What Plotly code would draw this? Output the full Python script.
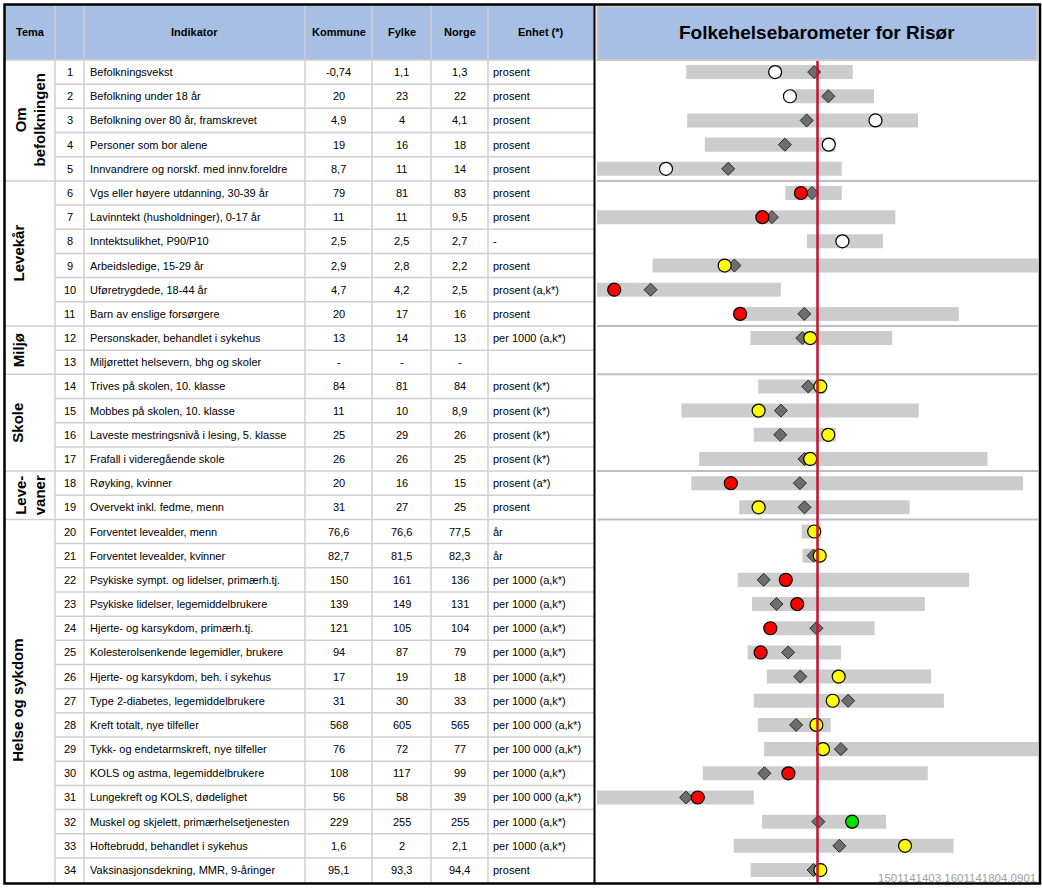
import plotly.graph_objects as go

# ---------------- data ----------------
themes = ["Om<br>befolkningen", "Levekår", "Miljø", "Skole", "Leve-<br>vaner", "Helse og sykdom"]
theme_rows = [5, 6, 2, 4, 2, 15]

indicators = [
    "Befolkningsvekst",
    "Befolkning under 18 år",
    "Befolkning over 80 år, framskrevet",
    "Personer som bor alene",
    "Innvandrere og norskf. med innv.foreldre",
    "Vgs eller høyere utdanning, 30-39 år",
    "Lavinntekt (husholdninger), 0-17 år",
    "Inntektsulikhet, P90/P10",
    "Arbeidsledige, 15-29 år",
    "Uføretrygdede, 18-44 år",
    "Barn av enslige forsørgere",
    "Personskader, behandlet i sykehus",
    "Miljørettet helsevern, bhg og skoler",
    "Trives på skolen, 10. klasse",
    "Mobbes på skolen, 10. klasse",
    "Laveste mestringsnivå i lesing, 5. klasse",
    "Frafall i videregående skole",
    "Røyking, kvinner",
    "Overvekt inkl. fedme, menn",
    "Forventet levealder, menn",
    "Forventet levealder, kvinner",
    "Psykiske sympt. og lidelser, primærh.tj.",
    "Psykiske lidelser, legemiddelbrukere",
    "Hjerte- og karsykdom, primærh.tj.",
    "Kolesterolsenkende legemidler, brukere",
    "Hjerte- og karsykdom, beh. i sykehus",
    "Type 2-diabetes, legemiddelbrukere",
    "Kreft totalt, nye tilfeller",
    "Tykk- og endetarmskreft, nye tilfeller",
    "KOLS og astma, legemiddelbrukere",
    "Lungekreft og KOLS, dødelighet",
    "Muskel og skjelett, primærhelsetjenesten",
    "Hoftebrudd, behandlet i sykehus",
    "Vaksinasjonsdekning, MMR, 9-åringer",
]

kommune = ["-0,74", "20", "4,9", "19", "8,7", "79", "11", "2,5", "2,9", "4,7", "20", "13", "-",
           "84", "11", "25", "26", "20", "31", "76,6", "82,7", "150", "139", "121", "94", "17",
           "31", "568", "76", "108", "56", "229", "1,6", "95,1"]
fylke = ["1,1", "23", "4", "16", "11", "81", "11", "2,5", "2,8", "4,2", "17", "14", "-",
         "81", "10", "29", "26", "16", "27", "76,6", "81,5", "161", "149", "105", "87", "19",
         "30", "605", "72", "117", "58", "255", "2", "93,3"]
norge = ["1,3", "22", "4,1", "18", "14", "83", "9,5", "2,7", "2,2", "2,5", "16", "13", "-",
         "84", "8,9", "26", "25", "15", "25", "77,5", "82,3", "136", "131", "104", "79", "18",
         "33", "565", "77", "99", "39", "255", "2,1", "94,4"]
enhet = ["prosent", "prosent", "prosent", "prosent", "prosent", "prosent", "prosent", "-",
         "prosent", "prosent (a,k*)", "prosent", "per 1000 (a,k*)", "",
         "prosent (k*)", "prosent (k*)", "prosent (k*)", "prosent (k*)", "prosent (a*)", "prosent",
         "år", "år", "per 1000 (a,k*)", "per 1000 (a,k*)", "per 1000 (a,k*)", "per 1000 (a,k*)",
         "per 1000 (a,k*)", "per 1000 (a,k*)", "per 100 000 (a,k*)", "per 100 000 (a,k*)",
         "per 1000 (a,k*)", "per 100 000 (a,k*)", "per 1000 (a,k*)", "per 1000 (a,k*)", "prosent"]

# barometer, standardised scale (Norway = 0, chart spans -1 .. 1)
bar_low = [-0.595, -0.121, -0.591, -0.511, -1.0, -0.146, -1.0, -0.048, -0.748, -1.0, -0.354,
           -0.304, None, -0.269, -0.617, -0.289, -0.537, -0.572, -0.355, -0.072, -0.068,
           -0.362, -0.297, -0.207, -0.317, -0.230, -0.289, -0.271, -0.242, -0.520, -1.0,
           -0.251, -0.380, -0.303]
bar_high = [0.160, 0.256, 0.456, 0.081, 0.110, 0.110, 0.353, 0.297, 1.0, -0.166, 0.641,
            0.339, None, 0.034, 0.459, 0.083, 0.771, 0.932, 0.418, 0.017, 0.016,
            0.688, 0.487, 0.259, 0.107, 0.515, 0.573, 0.060, 1.0, 0.500, -0.289,
            0.311, 0.617, 0.029]
fylke_pos = [-0.015, 0.049, -0.049, -0.148, -0.405, -0.025, -0.207, 0.113, -0.377, -0.757,
             -0.060, -0.069, None, -0.042, -0.166, -0.169, -0.059, -0.080, -0.059, -0.015,
             -0.018, -0.244, -0.186, -0.005, -0.133, -0.078, 0.139, -0.097, 0.106, -0.241,
             -0.596, 0.004, 0.099, -0.018]
kommune_pos = [-0.192, -0.125, 0.263, 0.051, -0.687, -0.075, -0.250, 0.113, -0.421, -0.922,
               -0.351, -0.033, None, 0.013, -0.267, 0.049, -0.033, -0.393, -0.267, -0.015,
               0.010, -0.144, -0.092, -0.214, -0.258, 0.096, 0.069, -0.005, 0.025, -0.132,
               -0.543, 0.157, 0.397, 0.013]
kommune_color = ["white", "white", "white", "white", "white", "red", "red", "white", "yellow",
                 "red", "red", "yellow", None, "yellow", "yellow", "yellow", "yellow", "red",
                 "yellow", "yellow", "yellow", "red", "red", "red", "red", "yellow", "yellow",
                 "yellow", "yellow", "red", "red", "green", "yellow", "yellow"]
reference = 0.0
footer = "1501141403.1601141804.0901"

# ---------------- layout constants ----------------
W, H = 1042, 890
ROW_H = 24.18
TOP = 60.0          # pixel y of header bottom


def vy(py):
    return (py - TOP) / ROW_H


n = len(indicators)
rows = [i + 0.5 for i in range(n)]
FONT = "Arial, Liberation Sans, sans-serif"
BLUE = "#A7BFE4"
GRID = "#CFCFCF"
colmap = {"white": "#FFFFFF", "red": "#FF0000", "yellow": "#FFFF00", "green": "#00E000"}

fig = go.Figure()

# dummy trace so the table axis exists
fig.add_trace(go.Scatter(x=[0], y=[0], mode="markers", marker=dict(opacity=0),
                         hoverinfo="skip", showlegend=False, xaxis="x", yaxis="y"))

# grey range bars
idx = [i for i in range(n) if bar_low[i] is not None]
fig.add_trace(go.Bar(
    orientation="h",
    y=[rows[i] for i in idx],
    x=[bar_high[i] - bar_low[i] for i in idx],
    base=[bar_low[i] for i in idx],
    width=0.58,
    marker=dict(color="#CCCCCC", line=dict(width=0)),
    hoverinfo="skip", showlegend=False, xaxis="x2", yaxis="y"))

# fylke diamonds
fig.add_trace(go.Scatter(
    x=[fylke_pos[i] for i in idx], y=[rows[i] for i in idx],
    mode="markers",
    marker=dict(symbol="diamond", size=10, color="#6E6E6E", line=dict(color="#2A2A2A", width=1)),
    hoverinfo="skip", showlegend=False, xaxis="x2", yaxis="y", cliponaxis=False))

# kommune circles
fig.add_trace(go.Scatter(
    x=[kommune_pos[i] for i in idx], y=[rows[i] for i in idx],
    mode="markers",
    marker=dict(symbol="circle", size=13, color=[colmap[kommune_color[i]] for i in idx],
                line=dict(color="#000000", width=1.2)),
    hoverinfo="skip", showlegend=False, xaxis="x2", yaxis="y", cliponaxis=False))

shapes = []
# header backgrounds
shapes.append(dict(type="rect", xref="x", yref="y", x0=5, x1=594, y0=vy(5), y1=0,
                   fillcolor=BLUE, line=dict(width=0), layer="below"))
shapes.append(dict(type="rect", xref="x", yref="y", x0=597.5, x1=1037, y0=vy(6.5), y1=vy(60),
                   fillcolor=BLUE, line=dict(color="#C9C9C9", width=2), layer="below"))

# group boundaries (row index where a new theme starts)
bounds = []
acc = 0
for k in theme_rows[:-1]:
    acc += k
    bounds.append(acc)

# horizontal row lines in table
for r in range(0, n):
    x0 = 5 if (r == 0 or r in bounds) else 55
    shapes.append(dict(type="line", xref="x", yref="y", x0=x0, x1=594, y0=r, y1=r,
                       line=dict(color=GRID, width=1.5), layer="below"))
# vertical column lines
for cx in [55, 84, 305, 372, 431, 488]:
    shapes.append(dict(type="line", xref="x", yref="y", x0=cx, x1=cx, y0=vy(5), y1=n,
                       line=dict(color=GRID, width=1.5), layer="below"))
# chart group separators
for b in bounds:
    shapes.append(dict(type="line", xref="x", yref="y", x0=597, x1=1038, y0=b, y1=b,
                       line=dict(color="#BEBEBE", width=2), layer="below"))
# reference line (Norway)
shapes.append(dict(type="line", xref="x2", yref="y", x0=reference, x1=reference,
                   y0=vy(61), y1=vy(884), line=dict(color="#C4122F", width=2.5), layer="above"))
# outer frame and divider
shapes.append(dict(type="rect", xref="x", yref="y", x0=4.5, x1=1040, y0=vy(4.5), y1=vy(883.5),
                   line=dict(color="#000000", width=2.5), layer="above"))
shapes.append(dict(type="line", xref="x", yref="y", x0=594.5, x1=594.5, y0=vy(4.5), y1=vy(883.5),
                   line=dict(color="#000000", width=2), layer="above"))

ann = []
hy = vy(32)
for txt, cx in [("Tema", 30), ("Indikator", 194.5), ("Kommune", 338.5), ("Fylke", 401.5),
                ("Norge", 459.5), ("Enhet (*)", 541)]:
    ann.append(dict(text=f"<b>{txt}</b>", x=cx, y=hy, xref="x", yref="y", showarrow=False,
                    xanchor="center", yanchor="middle", font=dict(family=FONT, size=11, color="#000")))
ann.append(dict(text="<b>Folkehelsebarometer for Risør</b>", x=817, y=hy, xref="x", yref="y",
                showarrow=False, xanchor="center", yanchor="middle",
                font=dict(family=FONT, size=19, color="#000")))

for i in range(n):
    y = rows[i]
    f = dict(family=FONT, size=11, color="#000")
    ann.append(dict(text=str(i + 1), x=69.5, y=y, xref="x", yref="y", showarrow=False,
                    xanchor="center", yanchor="middle", font=f))
    ann.append(dict(text=indicators[i], x=88, y=y, xref="x", yref="y", showarrow=False,
                    xanchor="left", yanchor="middle", font=f))
    for val, cx in [(kommune[i], 338.5), (fylke[i], 401.5), (norge[i], 459.5)]:
        ann.append(dict(text=val, x=cx, y=y, xref="x", yref="y", showarrow=False,
                        xanchor="center", yanchor="middle", font=f))
    if enhet[i]:
        ann.append(dict(text=enhet[i], x=491, y=y, xref="x", yref="y", showarrow=False,
                        xanchor="left", yanchor="middle", font=f))

# theme labels (rotated)
start = 0
for t, k in zip(themes, theme_rows):
    cy = start + k / 2.0
    two = "<br>" in t
    ann.append(dict(text=f"<b>{t}</b>", x=30 if two else 18, y=cy, xref="x", yref="y",
                    showarrow=False, textangle=-90, xanchor="center", yanchor="middle",
                    font=dict(family=FONT, size=15, color="#000")))
    start += k

ann.append(dict(text=footer, x=1038, y=vy(878), xref="x", yref="y", showarrow=False,
                xanchor="right", yanchor="middle", font=dict(family=FONT, size=11.5, color="#A0A0A0")))

fig.update_layout(
    width=W, height=H, margin=dict(l=0, r=0, t=0, b=0),
    paper_bgcolor="#FFFFFF", plot_bgcolor="rgba(0,0,0,0)",
    showlegend=False, barmode="overlay",
    xaxis=dict(range=[0, W], domain=[0, 1], visible=False, fixedrange=True),
    xaxis2=dict(range=[-1, 1], domain=[597 / W, 1038 / W], anchor="y", visible=False,
                fixedrange=True),
    yaxis=dict(range=[vy(H), vy(0)], domain=[0, 1], visible=False, fixedrange=True),
    shapes=shapes, annotations=ann,
)

fig.write_html("out.html", config={"displayModeBar": False},
               post_script="document.body.style.margin='0';document.body.style.overflow='hidden';")
